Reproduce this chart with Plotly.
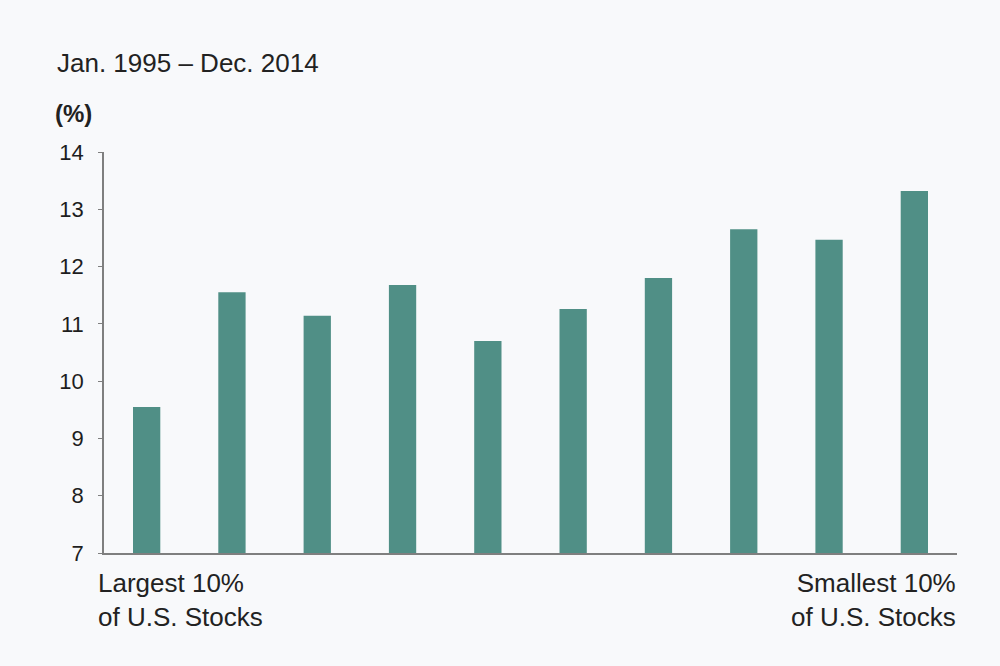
import plotly.graph_objects as go

# annualized returns by size decile, Jan. 1995 - Dec. 2014
deciles = ["1", "2", "3", "4", "5", "6", "7", "8", "9", "10"]
returns = [9.55, 11.55, 11.14, 11.68, 10.70, 11.26, 11.80, 12.65, 12.47, 13.32]
tick_vals = [7, 8, 9, 10, 11, 12, 13, 14]
left_label = "Largest 10%<br>of U.S. Stocks"
right_label = "Smallest 10%<br>of U.S. Stocks"

bg = "#f8f9fb"
teal = "#508f86"
axis_gray = "#7f7f7f"
font_name = "Liberation Sans, Arial, sans-serif"

fig = go.Figure(go.Bar(
    x=deciles,
    y=returns,
    width=0.32,
    marker=dict(color=teal, line=dict(width=0)),
    hoverinfo="y",
))

fig.update_layout(
    width=1000,
    height=666,
    margin=dict(l=104, r=43, t=152, b=113),
    paper_bgcolor=bg,
    plot_bgcolor=bg,
    showlegend=False,
    font=dict(family=font_name, color="#222222", size=22),
    xaxis=dict(
        range=[-0.5, 9.5],
        showticklabels=False,
        showgrid=False,
        zeroline=False,
        showline=True,
        linecolor=axis_gray,
        linewidth=2,
        ticks="",
    ),
    yaxis=dict(
        range=[7, 14],
        tickvals=tick_vals,
        showgrid=False,
        zeroline=False,
        showline=True,
        linecolor=axis_gray,
        linewidth=1.5,
        ticks="outside",
        ticklen=4,
        tickcolor=axis_gray,
        ticklabelstandoff=10,
        tickfont=dict(size=22, color="#1e1e1e"),
    ),
)

fig.add_annotation(text="Jan. 1995 – Dec. 2014", xref="paper", yref="paper",
                   x=-0.058, y=1.222, xanchor="left", yanchor="middle",
                   showarrow=False, font=dict(size=26, color="#222222"))
fig.add_annotation(text="<b>(%)</b>", xref="paper", yref="paper",
                   x=-0.06, y=1.097, xanchor="left", yanchor="middle",
                   showarrow=False, font=dict(size=24, color="#222222"))
fig.add_annotation(text=left_label, xref="paper", yref="paper",
                   x=-0.009, y=-0.032, xanchor="left", yanchor="top", align="left",
                   showarrow=False, font=dict(size=26, color="#222222"))
fig.add_annotation(text=right_label, xref="paper", yref="paper",
                   x=1.001, y=-0.032, xanchor="right", yanchor="top", align="right",
                   showarrow=False, font=dict(size=26, color="#222222"))

fig.write_html("out.html", config={"displayModeBar": False},
               post_script="document.body.style.margin='0';document.body.style.background='%s';" % bg)
